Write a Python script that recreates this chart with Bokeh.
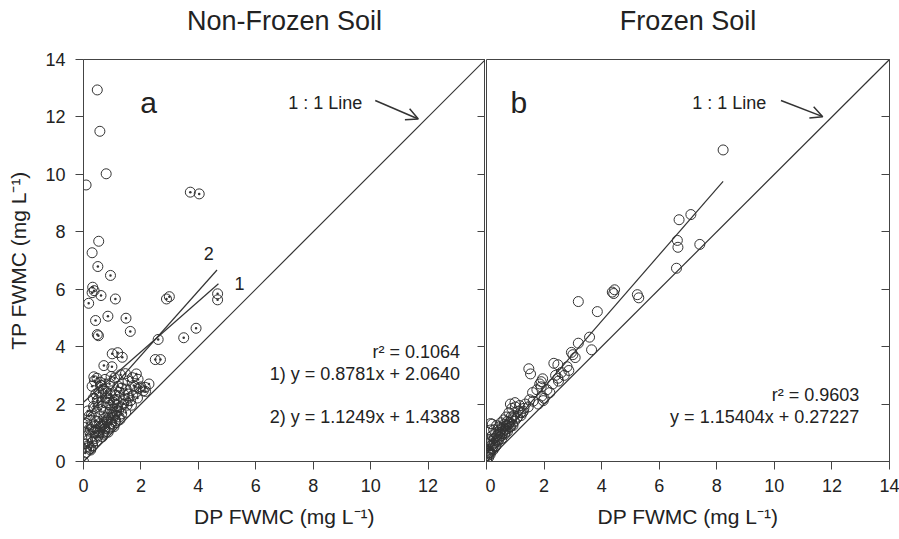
import numpy as np
from bokeh.plotting import figure
from bokeh.models import Range1d, LinearAxis, FixedTicker, Arrow, OpenHead, Label
from bokeh.layouts import row
from bokeh.embed import file_html
from bokeh.resources import INLINE

FONT = "Liberation Sans"
INK = "#333333"
AX = "#444444"
TXT = "#222222"

# ---------------- data: Non-Frozen Soil (panel a) ----------------
dp_a_open = [0.48, 0.57, 0.79, 0.09, 0.53, 0.30, 0.00]
tp_a_open = [12.94, 11.50, 10.02, 9.63, 7.67, 7.27, 0.00]

dp_a_dot = [3.72, 4.03, 0.50, 0.94, 0.32, 0.37, 0.30, 0.61, 0.18, 1.11, 2.89, 2.99, 4.67, 4.67,
            0.42, 0.85, 1.48, 1.63, 0.48, 0.52, 3.49, 3.92, 2.60, 2.50, 2.68, 1.00, 1.19, 1.35,
            0.71, 0.99, 1.84, 2.16, 0.36,
            0.06, 0.10, 0.14, 0.08, 0.17, 0.12, 0.19, 0.15, 0.04, 0.11,
            0.26, 0.31, 0.28, 0.36, 0.33, 0.39, 0.27, 0.35, 0.30, 0.38, 0.24, 0.34,
            0.46, 0.52, 0.49, 0.57, 0.45, 0.55, 0.60, 0.48, 0.53, 0.58, 0.47, 0.56, 0.44,
            0.66, 0.70, 0.74, 0.68, 0.79, 0.72, 0.65, 0.77, 0.69, 0.75, 0.71, 0.63,
            0.86, 0.90, 0.95, 0.88, 0.99, 0.92, 0.87, 0.97, 0.91, 0.96, 0.83, 0.93,
            1.06, 1.12, 1.09, 1.17, 1.05, 1.14, 1.20, 1.08, 1.02, 1.15,
            1.27, 1.33, 1.30, 1.38, 1.25, 1.36, 1.29, 1.22,
            1.47, 1.52, 1.58, 1.49, 1.55, 1.46, 1.42,
            1.67, 1.72, 1.79, 1.70, 1.64,
            1.88, 1.95, 1.90, 1.84,
            2.08, 2.28, 2.15,
            0.32, 0.41, 0.54, 0.62, 0.73, 0.81, 0.89, 1.01, 1.13, 1.24,
            0.37, 0.51, 0.64, 0.78, 0.94, 1.07, 1.18, 1.31, 0.43, 0.59,
            0.85, 1.10, 0.25, 0.67, 0.98, 1.40, 1.55, 1.75, 2.00, 0.20]
tp_a_dot = [9.38, 9.32, 6.79, 6.48, 6.07, 5.95, 5.88, 5.78, 5.51, 5.66, 5.66, 5.74, 5.84, 5.63,
            4.91, 5.06, 4.99, 4.53, 4.42, 4.38, 4.31, 4.64, 4.25, 3.55, 3.55, 3.75, 3.79, 3.63,
            3.34, 3.30, 3.05, 2.44, 2.95,
            0.30, 0.52, 0.72, 0.93, 1.10, 1.32, 1.58, 1.76, 0.62, 1.20,
            0.45, 0.66, 0.86, 1.02, 1.21, 1.42, 1.61, 1.92, 2.62, 2.81, 1.12, 2.20,
            0.72, 0.90, 1.06, 1.20, 1.41, 1.56, 1.81, 2.12, 2.41, 2.76, 2.90, 1.32, 1.01,
            0.86, 1.01, 1.14, 1.31, 1.52, 1.71, 1.92, 2.21, 2.52, 2.86, 1.23, 2.65,
            1.02, 1.16, 1.31, 1.52, 1.71, 1.96, 2.21, 2.46, 2.71, 2.96, 1.42, 1.82,
            1.21, 1.42, 1.61, 1.86, 2.06, 2.31, 2.62, 2.91, 1.52, 2.16,
            1.46, 1.66, 1.91, 2.16, 2.41, 2.71, 3.02, 1.76,
            1.71, 1.96, 2.21, 2.52, 2.81, 3.06, 2.32,
            1.96, 2.31, 2.61, 2.92, 2.12,
            2.21, 2.56, 2.86, 2.42,
            2.46, 2.70, 2.58,
            0.55, 0.80, 1.00, 1.25, 1.05, 1.45, 1.20, 1.60, 1.75, 1.55,
            1.85, 2.05, 2.25, 2.45, 2.35, 2.15, 1.95, 2.55, 2.35, 2.65,
            2.05, 1.35, 0.40, 0.95, 1.30, 2.00, 2.35, 2.65, 2.60, 0.50]

fit_a1 = {"label": "1", "slope": 0.8781, "intercept": 2.0640, "x_max": 4.70}
fit_a2 = {"label": "2", "slope": 1.1249, "intercept": 1.4388, "x_max": 4.65}
r2_a = "0.1064"

# ---------------- data: Frozen Soil (panel b) ----------------
dp_b = [8.22, 6.69, 7.10, 6.63, 6.65, 7.41, 6.60, 4.45, 4.37, 4.42, 5.24, 5.29, 3.19, 3.85,
        3.58, 3.19, 3.65, 3.00, 3.08, 2.95, 2.86, 2.34, 2.48, 1.47, 1.53, 1.95, 1.90, 1.85,
        2.48, 1.60, 1.92, 1.97, 0.83, 0.99,
        1.75, 1.90, 2.00, 2.10, 1.62, 1.80, 2.20, 2.30, 2.50, 2.60, 2.80, 2.70, 2.40,
        0.00, 0.03, 0.05, 0.08, 0.10, 0.12, 0.15, 0.18, 0.20, 0.22, 0.25, 0.27, 0.30,
        0.32, 0.35, 0.38, 0.40, 0.42, 0.45, 0.48, 0.50, 0.52, 0.55, 0.58, 0.60, 0.62,
        0.65, 0.68, 0.70, 0.72, 0.75, 0.78, 0.80, 0.85, 0.88, 0.90, 0.95, 1.00, 1.05,
        1.10, 1.15, 1.20, 1.30, 1.35, 1.45, 1.50, 0.14, 0.20, 0.15,
        0.06, 0.11, 0.24, 0.36, 0.47, 0.57, 0.66, 0.83, 0.97, 1.25,
        0.02, 0.07, 0.13, 0.17, 0.23, 0.28, 0.33, 0.37, 0.43, 0.46, 0.53, 0.57,
        0.63, 0.67, 0.73, 0.77, 0.82, 0.87, 0.92, 1.08, 1.18, 1.28, 0.04, 0.09]
tp_b = [10.85, 8.42, 8.60, 7.70, 7.46, 7.56, 6.73, 5.98, 5.90, 5.85, 5.81, 5.70, 5.57, 5.22,
        4.33, 4.12, 3.89, 3.72, 3.62, 3.80, 3.17, 3.42, 3.37, 3.23, 3.05, 2.88, 2.78, 2.70,
        2.90, 2.40, 2.28, 2.12, 2.00, 2.05,
        2.50, 2.60, 2.20, 2.50, 2.10, 2.00, 2.40, 2.70, 2.80, 3.10, 3.30, 3.00, 3.00,
        0.05, 0.20, 0.40, 0.15, 0.55, 0.30, 0.70, 0.45, 0.90, 0.60, 1.10, 0.80, 0.50,
        1.00, 1.25, 0.70, 0.95, 1.20, 0.85, 1.10, 1.35, 0.90, 1.20, 1.05, 1.45, 1.30,
        1.00, 1.55, 1.25, 1.40, 1.15, 1.70, 1.35, 1.55, 1.85, 1.30, 1.60, 1.90, 1.50,
        1.75, 1.95, 1.60, 1.85, 2.00, 1.90, 2.15, 1.32, 1.30, 1.10,
        0.35, 0.65, 0.55, 0.75, 0.95, 0.98, 1.12, 1.22, 1.40, 1.70,
        0.10, 0.30, 0.25, 0.55, 0.40, 0.65, 0.55, 0.90, 0.75, 1.00, 0.80, 1.15,
        0.95, 1.25, 1.05, 1.30, 1.20, 1.45, 1.25, 1.55, 1.70, 1.75, 0.60, 0.75]

fit_b = {"slope": 1.15404, "intercept": 0.27227, "x_max": 8.22}
r2_b = "0.9603"

ticks = [0, 2, 4, 6, 8, 10, 12, 14]
LIMIT = 14

titles = ["Non-Frozen Soil", "Frozen Soil"]
panel_tags = ["a", "b"]
x_title = "DP FWMC (mg L\u207b\u00b9)"
y_title = "TP FWMC (mg L\u207b\u00b9)"

HEIGHT = 536
TOP = 59
BOTTOM = HEIGHT - 461


def style_axis(ax, labels=True):
    ax.axis_line_color = AX
    ax.major_tick_line_color = AX
    ax.minor_tick_line_color = None
    ax.minor_tick_out = 0
    ax.minor_tick_in = 0
    ax.major_tick_out = 8
    ax.major_tick_in = 0
    ax.major_label_text_font = FONT
    ax.major_label_text_font_size = "18px"
    ax.major_label_text_color = TXT
    ax.axis_label_text_font = FONT
    ax.axis_label_text_font_size = "21px"
    ax.axis_label_text_font_style = "normal"
    ax.axis_label_text_color = TXT
    if not labels:
        ax.major_label_overrides = {t: "" for t in ticks}
        ax.major_label_standoff = 0
        ax.major_tick_out = 0
        ax.major_tick_in = 8


def base_fig(width, title, left, right):
    p = figure(width=width, height=HEIGHT, x_range=Range1d(0, LIMIT), y_range=Range1d(0, LIMIT),
               output_backend="svg", toolbar_location=None, title=None,
               x_axis_location=None, y_axis_location=None,
               min_border_left=left, min_border_right=right,
               min_border_top=TOP, min_border_bottom=BOTTOM)
    p.grid.visible = False
    p.outline_line_color = AX
    p.outline_line_width = 1
    p.background_fill_color = "white"
    p.border_fill_color = "white"
    # panel heading drawn as the label of a tick-less top axis
    top = LinearAxis(ticker=FixedTicker(ticks=[]), axis_label=title)
    top.axis_line_color = None
    top.major_tick_out = 0
    top.major_tick_in = 0
    top.minor_tick_out = 0
    top.minor_tick_in = 0
    top.major_label_standoff = 0
    top.axis_label_standoff = 24
    top.axis_label_text_font = FONT
    top.axis_label_text_font_size = "27px"
    top.axis_label_text_font_style = "normal"
    top.axis_label_text_color = TXT
    p.add_layout(top, "above")
    return p


def add_common(p, tag, tag_x, line_label_x, arrow):
    xs = np.array([0, LIMIT])
    p.line(xs, xs, line_color=INK, line_width=1.2)
    p.add_layout(Label(x=tag_x, y=12.5, text=tag, text_font=FONT, text_font_size="30px",
                       text_baseline="middle", text_color=TXT))
    p.add_layout(Label(x=line_label_x, y=12.5, text="1 : 1 Line", text_font=FONT,
                       text_font_size="18px", text_baseline="middle", text_color=TXT))
    p.add_layout(Arrow(end=OpenHead(size=12, line_color=INK, line_width=1.5),
                       x_start=arrow[0], y_start=arrow[1], x_end=arrow[2], y_end=arrow[3],
                       line_color=INK, line_width=1.5))


def eq_label(p, x, y, text):
    p.add_layout(Label(x=x, y=y, text=text, text_font=FONT, text_font_size="18px",
                       text_align="right", text_baseline="middle", text_color=TXT))


def bottom_axis(p, tks):
    ax = LinearAxis(ticker=FixedTicker(ticks=tks), axis_label=x_title)
    style_axis(ax)
    ax.major_label_standoff = 9
    ax.axis_label_standoff = 10
    p.add_layout(ax, "below")


def right_axis(p):
    ax = LinearAxis(ticker=FixedTicker(ticks=ticks))
    style_axis(ax, labels=False)
    p.add_layout(ax, "right")


# ---------------- panel a ----------------
pa = base_fig(485, titles[0], 83, 0)
bottom_axis(pa, ticks[:-1])
ya = LinearAxis(ticker=FixedTicker(ticks=ticks), axis_label=y_title)
style_axis(ya)
ya.major_label_standoff = 10
ya.axis_label_standoff = 12
pa.add_layout(ya, "left")
right_axis(pa)

add_common(pa, panel_tags[0], 1.98, 7.13, (10.16, 12.57, 11.66, 11.93))
for f in (fit_a1, fit_a2):
    fx = np.array([0.0, f["x_max"]])
    pa.line(fx, f["slope"] * fx + f["intercept"], line_color=INK, line_width=1.2)
pa.add_layout(Label(x=4.36, y=7.23, text=fit_a2["label"], text_font=FONT, text_font_size="18px",
                    text_align="center", text_baseline="middle", text_color=TXT))
pa.add_layout(Label(x=5.43, y=6.19, text=fit_a1["label"], text_font=FONT, text_font_size="18px",
                    text_align="center", text_baseline="middle", text_color=TXT))
pa.scatter(dp_a_dot, tp_a_dot, marker="circle_dot", size=10, fill_color=None,
           line_color=INK, line_width=1)
pa.scatter(dp_a_open, tp_a_open, marker="circle", size=10, fill_color=None,
           line_color=INK, line_width=1)
eq_label(pa, 13.11, 3.81, "r\u00b2 = " + r2_a)
eq_label(pa, 13.11, 3.05, "1) y = %.4fx + %.4f" % (fit_a1["slope"], fit_a1["intercept"]))
eq_label(pa, 13.11, 1.54, "2) y = %.4fx + %.4f" % (fit_a2["slope"], fit_a2["intercept"]))

# ---------------- panel b ----------------
pb = base_fig(414, titles[1], 1, 10)
bottom_axis(pb, ticks)
right_axis(pb)

add_common(pb, panel_tags[1], 0.83, 7.15, (10.23, 12.57, 11.68, 12.01))
fx = np.array([0.0, fit_b["x_max"]])
pb.line(fx, fit_b["slope"] * fx + fit_b["intercept"], line_color=INK, line_width=1.2)
pb.scatter(dp_b, tp_b, marker="circle", size=10, fill_color=None, line_color=INK, line_width=1)
eq_label(pb, 12.95, 2.30, "r\u00b2 = " + r2_b)
eq_label(pb, 12.95, 1.54, "y = %.5fx + %.5f" % (fit_b["slope"], fit_b["intercept"]))

layout = row(pa, pb)
open("out.html", "w").write(file_html(layout, INLINE))
